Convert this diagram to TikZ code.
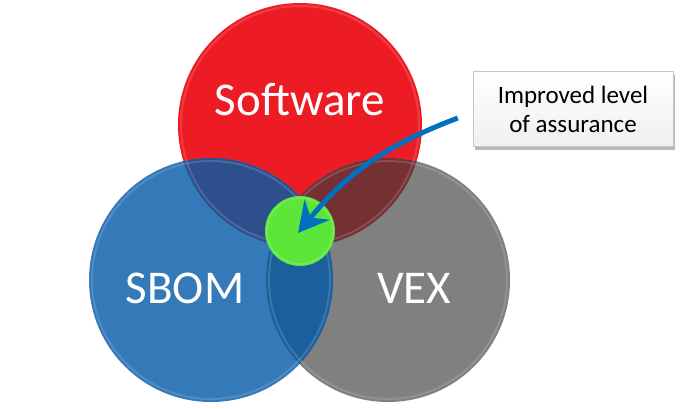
\documentclass[tikz,border=0pt]{standalone}
\usepackage{fontspec}
\setmainfont{Carlito}
\usepackage{tikz}
\usetikzlibrary{arrows.meta, shadows}

% colours of the diagram
\definecolor{swred}{RGB}{237,28,36}
\definecolor{sbomblue}{RGB}{52,121,184}
\definecolor{vexgray}{RGB}{128,128,128}
\definecolor{coregreen}{RGB}{92,230,58}
\definecolor{arrowblue}{RGB}{0,112,192}
\definecolor{redblue}{RGB}{46,79,142}
\definecolor{redgray}{RGB}{117,48,52}
\definecolor{bluegray}{RGB}{27,96,156}
\definecolor{allthree}{RGB}{42,62,112}

\tikzset{
    venn/.style={circle, minimum size=244pt, inner sep=0pt},
    rim/.style={draw=white, draw opacity=0.14, line width=2pt},
    bigtext/.style={text=white, font=\fontsize{47}{56}\selectfont},
    notebox/.style={draw=gray!45, top color=white, bottom color=gray!12,
        minimum width=200pt, minimum height=75pt, align=center,
        font=\fontsize{25}{29}\selectfont,
        drop shadow={shadow xshift=2pt, shadow yshift=-3pt, opacity=0.55}},
    pointer/.style={draw=arrowblue, line width=5pt,
        -{Stealth[length=30pt, width=32pt, inset=10pt]}}
}

\begin{document}
\begin{tikzpicture}[x=1pt, y=-1pt]
    \useasboundingbox (0,0) rectangle (687,408);

    % Circles
    \node[venn, fill=swred] (software) at (300,125) {};
    \node[venn, fill=vexgray] (vex) at (388,280) {};
    \node[venn, fill=sbomblue] (sbom) at (211,280) {};

    % Overlaps
    \begin{scope}
        \clip (software.center) circle[radius=122];
        \fill[redblue] (sbom.center) circle[radius=122];
        \fill[redgray] (vex.center) circle[radius=122];
    \end{scope}
    \begin{scope}
        \clip (sbom.center) circle[radius=122];
        \fill[bluegray] (vex.center) circle[radius=122];
        \clip (software.center) circle[radius=122];
        \fill[allthree] (vex.center) circle[radius=122];
    \end{scope}

    % Bevel rims
    \foreach \c in {software, sbom, vex}
        \draw[rim] (\c.center) circle[radius=119];

    % Labels
    \node[bigtext] (swlabel) at ([yshift=25pt]software.center) {Software};
    \node[bigtext] (sbomlabel) at ([xshift=-26pt, yshift=-8pt]sbom.center) {SBOM};
    \node[bigtext] (vexlabel) at ([xshift=26pt, yshift=-8pt]vex.center) {VEX};

    % Centre of all three
    \node[circle, fill=coregreen, minimum size=70pt, inner sep=0pt] (core) at (300,231) {};
    \draw[rim] (core.center) circle[radius=33];

    % Callout
    \node[notebox] (note) at (573,109) {Improved level\\of assurance};
    \coordinate (from) at ([xshift=-15pt, yshift=-9pt]note.west);
    \draw[pointer] (from) to[bend right=15] ([xshift=-2pt, yshift=-2pt]core.center);

\end{tikzpicture}
\end{document}
